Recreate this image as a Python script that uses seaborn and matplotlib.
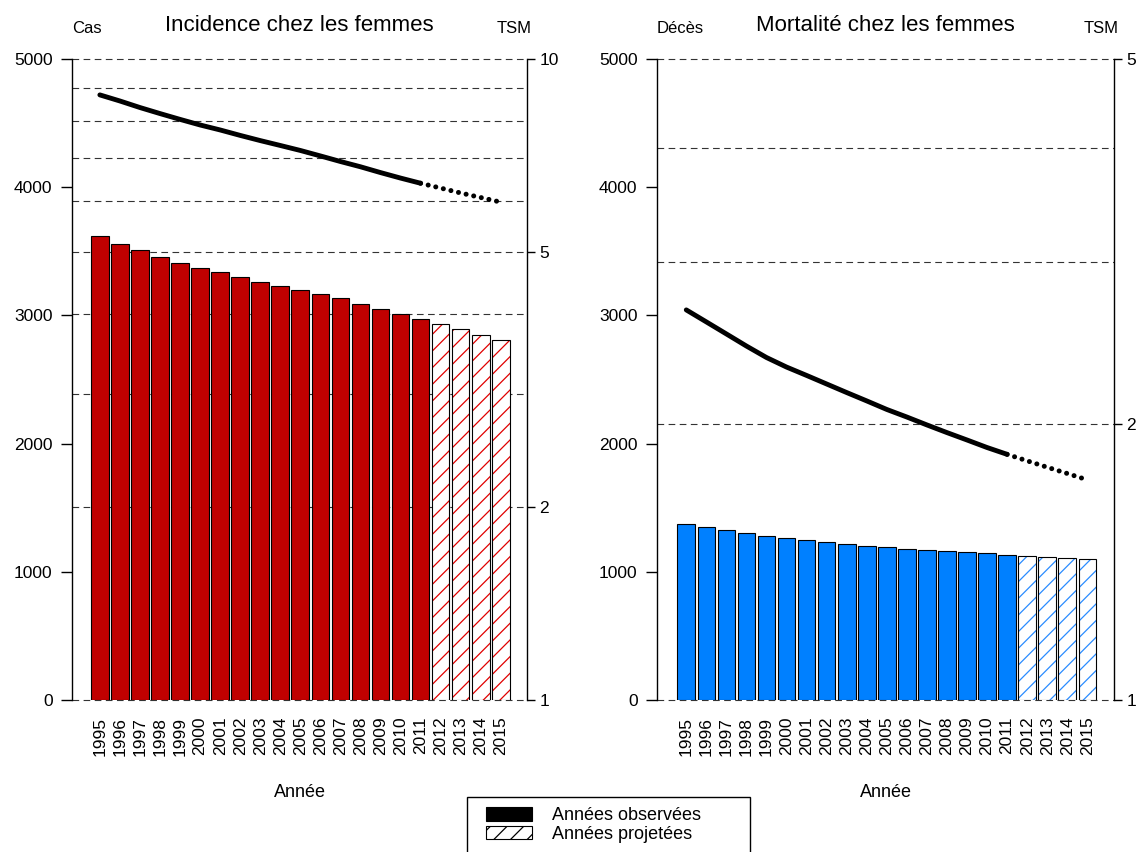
import numpy as np
import pandas as pd
import matplotlib
matplotlib.use("Agg")
import matplotlib.pyplot as plt
import seaborn as sns
from matplotlib.patches import Patch, Rectangle
from matplotlib.ticker import FixedLocator, FuncFormatter, NullFormatter

# ---------------- data ----------------
years = [str(y) for y in range(1995, 2016)]
n_observed = 17  # 1995-2011 observed, 2012-2015 projected

cas_incidence = [3617, 3559, 3508, 3453, 3409, 3372, 3336, 3302, 3263, 3232,
                 3200, 3169, 3133, 3086, 3053, 3011, 2972, 2930, 2894, 2850, 2808]
tsm_incidence = [8.79, 8.60, 8.40, 8.22, 8.05, 7.89, 7.75, 7.60, 7.46, 7.33,
                 7.20, 7.06, 6.92, 6.79, 6.65, 6.52, 6.40, 6.29, 6.18, 6.08, 5.98]

deces_mortalite = [1370, 1347, 1324, 1300, 1279, 1261, 1245, 1230, 1214, 1201,
                   1191, 1180, 1167, 1160, 1152, 1144, 1131, 1123, 1113, 1105, 1100]
tsm_mortalite = [2.663, 2.584, 2.507, 2.432, 2.363, 2.307, 2.259, 2.211, 2.164, 2.119,
                 2.074, 2.035, 1.995, 1.957, 1.921, 1.885, 1.853, 1.823, 1.794, 1.766, 1.738]

left_ticks = [0, 1000, 2000, 3000, 4000, 5000]
tsm_major_inc = [1, 2, 5, 10]
tsm_minor_inc = [3, 4, 6, 7, 8, 9]
tsm_major_mor = [1, 2, 5]
tsm_minor_mor = [3, 4]

# ---------------- style ----------------
sns.set_style("ticks")
plt.rcParams['font.family'] = ['Liberation Sans', 'DejaVu Sans']
plt.rcParams['hatch.linewidth'] = 0.9
for k in ['text.color', 'axes.labelcolor', 'xtick.color', 'ytick.color']:
    plt.rcParams[k] = 'black'

FS_TICK = 12.5
FS_LAB = 13

fig = plt.figure(figsize=(11.41, 8.52), dpi=100)
W, H = 1141, 852


def panel(rect, values, tsm, color, hatch_color, ylabel_txt, title,
          tsm_lim, tsm_major, tsm_minor, xlim):
    ax = fig.add_axes([rect[0] / W, 152 / H, rect[1] / W, 641 / H])
    ax2 = ax.twinx()
    # bars on top of the TSM axis (so the grid stays behind the bars)
    ax.set_zorder(ax2.get_zorder() + 1)
    ax.patch.set_visible(False)

    df = pd.DataFrame({"annee": years, "valeur": values})
    pal = [color] * len(years)
    sns.barplot(data=df, x="annee", y="valeur", hue="annee", palette=pal,
                legend=False, width=0.88, saturation=1, edgecolor="black",
                linewidth=0.8, ax=ax)
    for i, p in enumerate(ax.patches):
        if i >= n_observed:
            p.set_facecolor("white")
            p.set_edgecolor(hatch_color)
            p.set_linewidth(0)
            p.set_hatch("//")
            ax.add_patch(Rectangle((p.get_x(), p.get_y()), p.get_width(), p.get_height(),
                                   fill=False, edgecolor="black", linewidth=0.8, zorder=3))

    ax.set_xlim(*xlim)
    ax.set_ylim(0, 5000)
    ax.set_yticks(left_ticks)
    ax.set_yticklabels([str(t) for t in left_ticks])
    ax.tick_params(axis="y", direction="out", length=8, width=1, pad=6,
                   labelsize=FS_TICK, colors="black")
    ax.tick_params(axis="x", length=0, pad=12, labelsize=FS_TICK, rotation=90)
    ax.set_xlabel("")
    ax.set_ylabel("")
    for s in ["top", "bottom", "right"]:
        ax.spines[s].set_visible(False)
    ax.spines["left"].set_color("black")
    ax.spines["left"].set_linewidth(1)
    ax.grid(False)

    # TSM (log) axis
    ax2.set_yscale("log")
    ax2.set_ylim(*tsm_lim)
    ax2.yaxis.set_major_locator(FixedLocator(tsm_major))
    ax2.yaxis.set_minor_locator(FixedLocator(tsm_minor))
    ax2.yaxis.set_major_formatter(FuncFormatter(lambda v, p: f"{v:g}"))
    ax2.yaxis.set_minor_formatter(NullFormatter())
    ax2.tick_params(axis="y", which="major", direction="out", length=6, width=1,
                    pad=3, labelsize=FS_TICK, colors="black")
    ax2.tick_params(axis="y", which="minor", length=0)
    ax2.grid(True, which="both", axis="y", color="#333333", linewidth=0.8,
             linestyle=(0, (6, 4)))
    ax2.grid(False, axis="x")
    for s in ["top", "bottom", "left"]:
        ax2.spines[s].set_visible(False)
    ax2.spines["right"].set_color("black")
    ax2.spines["right"].set_linewidth(1)
    ax2.set_ylabel("")

    idx = np.arange(len(years))
    sns.lineplot(x=idx[:n_observed], y=tsm[:n_observed], ax=ax2, color="black",
                 linewidth=3.5, solid_capstyle="round")
    sns.lineplot(x=idx[n_observed - 1:], y=tsm[n_observed - 1:], ax=ax2, color="black",
                 linewidth=3.6, linestyle=(0, (0.01, 1.55)), dash_capstyle="round")
    ax2.set_xlim(*xlim)
    for gl in ax2.get_ygridlines():
        gl.set_clip_on(False)

    ax.text(0.0, 1.048, ylabel_txt, transform=ax.transAxes, ha="left", va="center",
            fontsize=12)
    ax.text(1.01, 1.048, "TSM", transform=ax.transAxes, ha="right", va="center",
            fontsize=12)
    ax.text(0.5, 1.053, title, transform=ax.transAxes, ha="center", va="center",
            fontsize=16)
    ax.text(0.5, -0.145, "Année", transform=ax.transAxes, ha="center", va="center",
            fontsize=FS_LAB)
    return ax, ax2


panel((72, 455), cas_incidence, tsm_incidence, "#C00000", "#E00000", "Cas",
      "Incidence chez les femmes", (1, 10), tsm_major_inc, tsm_minor_inc, (-1.39, 21.31))
panel((657, 457), deces_mortalite, tsm_mortalite, "#0080FF", "#2A8CFF", "Décès",
      "Mortalité chez les femmes", (1, 5), tsm_major_mor, tsm_minor_mor, (-1.46, 21.33))

# legend frame (runs off the bottom edge like the reference)
fig.patches.append(Rectangle((467 / W, -10 / H), 283 / W, 65 / H, transform=fig.transFigure,
                             facecolor="white", edgecolor="black", linewidth=1, zorder=1))
handles = [Patch(facecolor="black", edgecolor="black", linewidth=0.8),
           Patch(facecolor="white", edgecolor="black", hatch="//", linewidth=0.8)]
leg = fig.legend(handles, ["Années observées", "Années projetées"],
                 loc="upper left", bbox_to_anchor=(486 / W, 1 - 807 / H),
                 borderaxespad=0, borderpad=0, fontsize=FS_LAB, frameon=False,
                 handlelength=2.55, handleheight=0.78, handletextpad=1.1,
                 labelspacing=0.08)
leg.set_zorder(2)

fig.savefig("out.png", dpi=100)
